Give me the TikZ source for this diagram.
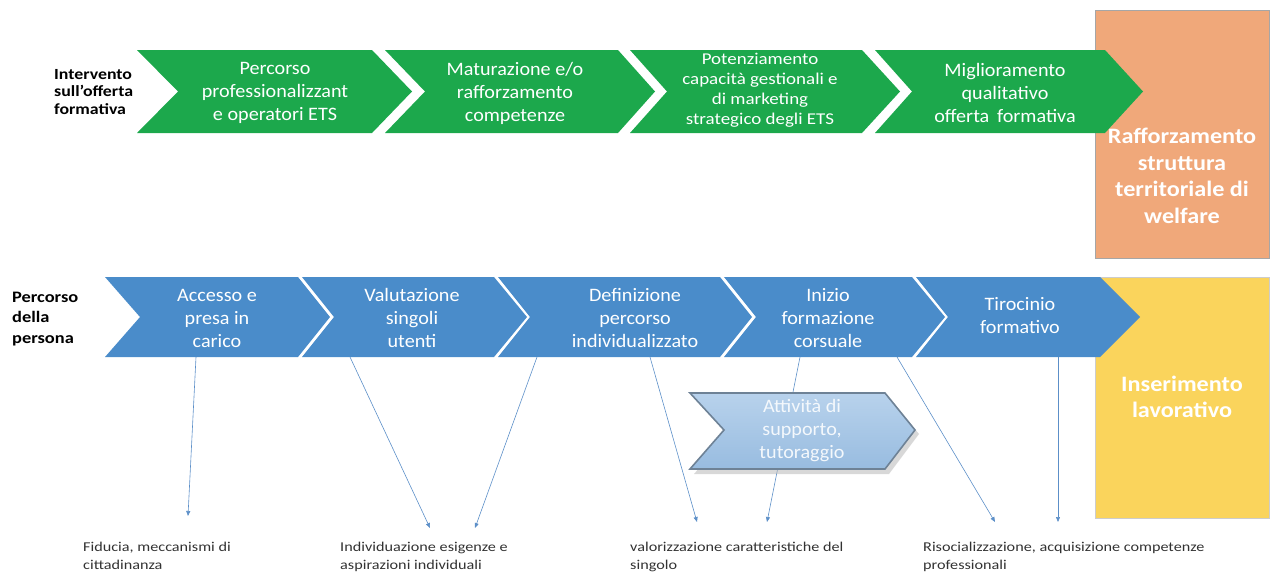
\documentclass[tikz,border=0pt]{standalone}
\usepackage{fontspec}
\setmainfont{Carlito}
\newfontfamily\chevfont[FakeStretch=1.06]{Carlito}
\newfontfamily\widefont[FakeStretch=1.15]{Carlito}
\newfontfamily\outfont[FakeStretch=1.2]{Carlito}
\newfontfamily\boxfont[FakeStretch=1.1]{Carlito}
\usetikzlibrary{arrows.meta}
\definecolor{grn}{RGB}{28,168,76}
\definecolor{blu}{RGB}{74,140,202}
\definecolor{orn}{RGB}{240,168,122}
\definecolor{yel}{RGB}{250,212,92}
\definecolor{lblu}{RGB}{184,210,236}
\definecolor{lblub}{RGB}{152,188,224}
\definecolor{lbord}{RGB}{110,130,150}
\definecolor{arr}{RGB}{92,143,200}
\definecolor{txt}{RGB}{50,50,50}
\newcommand{\chevshape}[8]{% color, L, notch, R, tip, T, B, M
  \fill[#1] (#2,#6) -- (#4,#6) -- (#5,#8) -- (#4,#7) -- (#2,#7) -- (#3,#8) -- cycle;}
\begin{document}
\begin{tikzpicture}[x=1pt,y=-1pt,
  chevtext/.style={text=white,align=center,font=\chevfont\fontsize{19}{23}\selectfont,inner sep=0pt},
  smalltext/.style={text=white,align=center,font=\widefont\fontsize{16.5}{20}\selectfont,inner sep=0pt},
  sidelabel/.style={text=black,align=left,font=\widefont\bfseries\fontsize{15.5}{17.5}\selectfont,inner sep=0pt,anchor=west},
  boxtext/.style={text=white,align=center,font=\boxfont\bfseries\fontsize{22}{26.5}\selectfont,inner sep=0pt},
  outtext/.style={text=txt,align=left,font=\outfont\fontsize{13.5}{18}\selectfont,inner sep=0pt,anchor=north west},
  link/.style={draw=arr,line width=0.6pt,-{Triangle[length=5pt,width=4pt]}}]
\useasboundingbox (0,0) rectangle (1271,574);
% right boxes
\node[draw=gray!70,line width=1pt,fill=orn,minimum width=174pt,minimum height=248pt,anchor=north west,inner sep=0pt] (orange) at (1095,10) {};
\node[draw=gray!40,line width=0.6pt,fill=yel,minimum width=174pt,minimum height=241pt,anchor=north west,inner sep=0pt] (yellow) at (1095,277) {};
\node[boxtext] (otext) at (1182,176) {Rafforzamento\\struttura\\territoriale di\\welfare};
\node[boxtext] (ytext) at (1182,397) {Inserimento\\lavorativo};
% green row
\chevshape{grn}{137}{178}{372}{412}{50}{133}{91.5}
\chevshape{grn}{385}{425}{618}{655}{50}{133}{91.5}
\chevshape{grn}{630}{667}{862}{900}{50}{133}{91.5}
\chevshape{grn}{875}{912}{1105}{1143}{50}{133}{91.5}
\node[chevtext] (g1) at (275,93) {Percorso\\professionalizzant\\e operatori ETS};
\node[chevtext] (g2) at (515,93) {Maturazione e/o\\rafforzamento\\competenze};
\node[smalltext] (g3) at (760,90) {Potenziamento\\capacità gestionali e\\di marketing\\strategico degli ETS};
\node[chevtext] (g4) at (1005,93) {Miglioramento\\qualitativo\\offerta\, formativa};
\node[sidelabel] (l1) at (54,92) {Intervento\\sull’offerta\\formativa};
% blue row
\chevshape{blu}{105}{140}{298}{330}{277}{357}{317}
\chevshape{blu}{302}{334}{494}{527}{277}{357}{317}
\chevshape{blu}{498}{530}{720}{752}{277}{357}{317}
\chevshape{blu}{724}{756}{912}{945}{277}{357}{317}
\chevshape{blu}{916}{948}{1100}{1140}{277}{357}{317}
\node[chevtext] (b1) at (217,318) {Accesso e\\presa in\\carico};
\node[chevtext] (b2) at (412,318) {Valutazione\\singoli\\utenti};
\node[chevtext] (b3) at (635,318) {Definizione\\percorso\\individualizzato};
\node[chevtext] (b4) at (828,318) {Inizio\\formazione\\corsuale};
\node[chevtext] (b5) at (1020,316) {Tirocinio\\formativo};
\node[sidelabel,font=\widefont\bfseries\fontsize{16}{20.5}\selectfont] (l2) at (12,319) {Percorso\\della\\persona};
% outcome texts
\node[outtext] (o1) at (83,542) {Fiducia, meccanismi di\\cittadinanza};
\node[outtext] (o2) at (340,542) {Individuazione esigenze e\\aspirazioni individuali};
\node[outtext] (o3) at (630,542) {valorizzazione caratteristiche del\\singolo};
\node[outtext] (o4) at (923,542) {Risocializzazione, acquisizione competenze\\professionali};
% connector coordinates
\coordinate (s1) at (196,357); \coordinate (e1) at (188,516);
\coordinate (s2) at (350,357); \coordinate (e2) at (430,528);
\coordinate (s3) at (537,357); \coordinate (e3) at (475,528);
\coordinate (s4) at (650,357); \coordinate (e4) at (697,522);
\coordinate (s5) at (800,357); \coordinate (e5) at (767,522);
\coordinate (s6) at (897,357); \coordinate (e6) at (995,522);
\coordinate (s7) at (1058,357); \coordinate (e7) at (1058,522);
\foreach \i in {1,...,7} {\draw[link] (s\i) -- (e\i);}
% support chevron
\fill[gray!60,opacity=0.5] (694,397) -- (889,397) -- (919,434) -- (889,474) -- (694,474) -- (728,434) -- cycle;
\draw[lbord,line width=1.6pt,top color=lblu,bottom color=lblub] (690,393) -- (885,393) -- (915,430) -- (885,469) -- (690,469) -- (724,430) -- cycle;
\node[chevtext,text=white!85!lblu] (sup) at (802,431) {Attività di\\supporto,\\tutoraggio};
\end{tikzpicture}
\end{document}
